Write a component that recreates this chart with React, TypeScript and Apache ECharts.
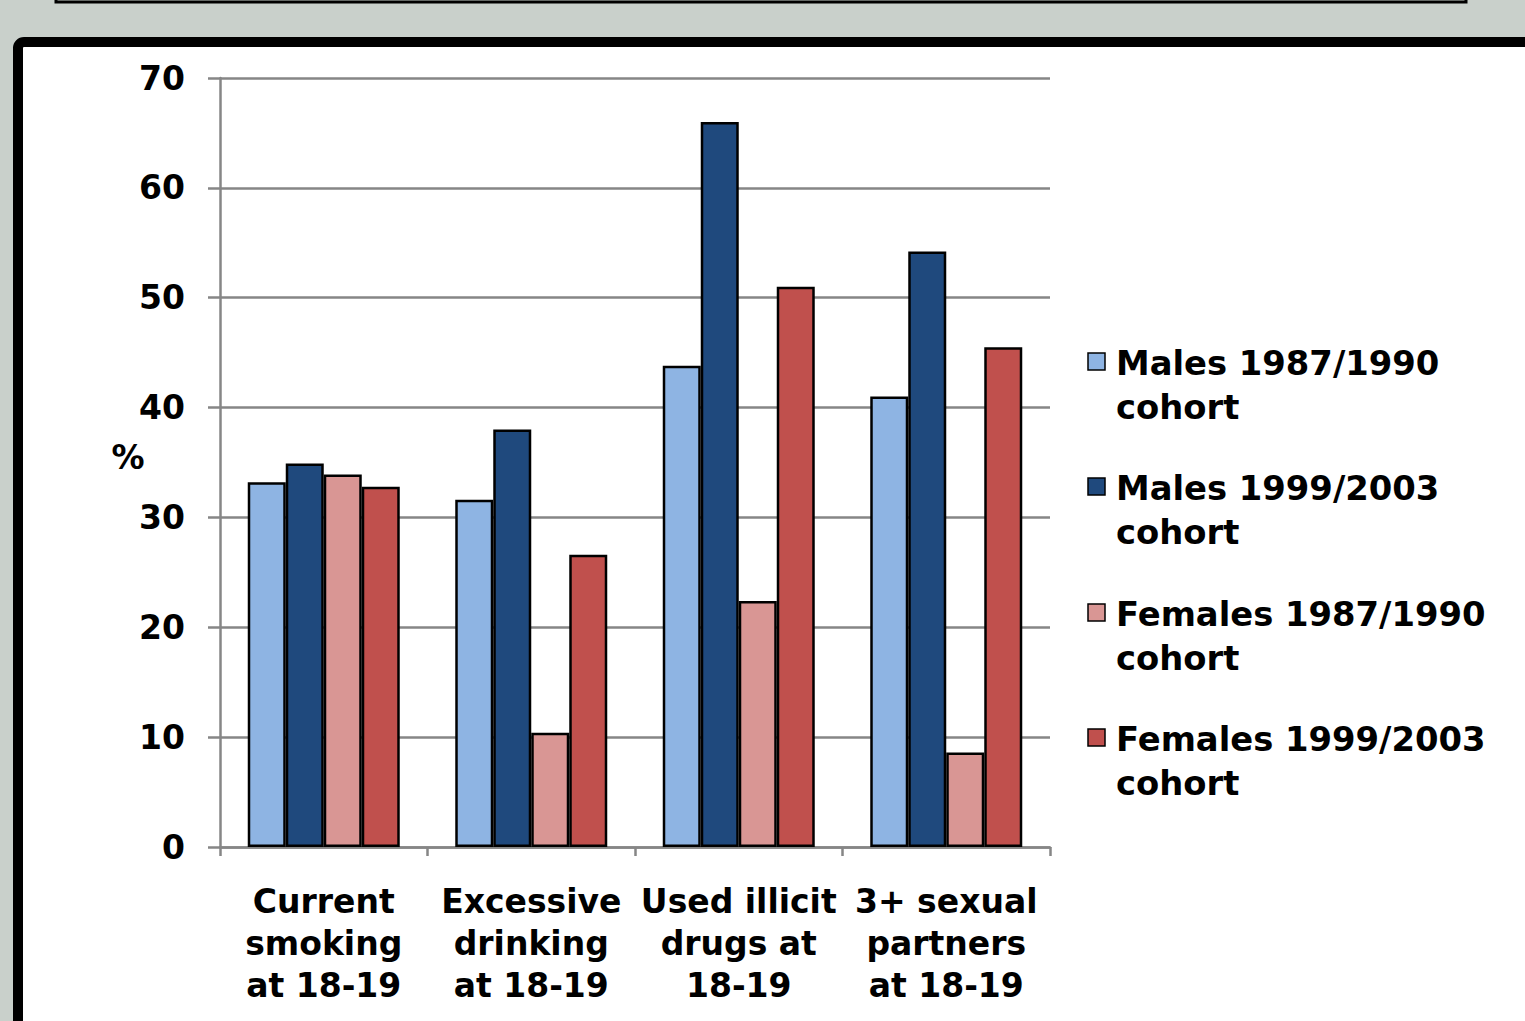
import React, { useEffect, useRef } from "react";
import * as echarts from "echarts";

const categories = [
  "Current\nsmoking\nat 18-19",
  "Excessive\ndrinking\nat 18-19",
  "Used illicit\ndrugs at\n18-19",
  "3+ sexual\npartners\nat 18-19",
];
const seriesNames = [
  "Males 1987/1990\ncohort",
  "Males 1999/2003\ncohort",
  "Females 1987/1990\ncohort",
  "Females 1999/2003\ncohort",
];
const males8790 = [33.2, 31.6, 43.8, 41.0];
const males9903 = [34.9, 38.0, 66.0, 54.2];
const females8790 = [33.9, 10.4, 22.4, 8.6];
const females9903 = [32.8, 26.6, 51.0, 45.5];
const seriesValues = [males8790, males9903, females8790, females9903];
const colors = ["#8eb4e3", "#1f497d", "#d99694", "#c0504d"];
const yTicks = { min: 0, max: 70, interval: 10 };
const yName = "%";

const FONT = "DejaVu Sans";

export default function App() {
  const ref = useRef<HTMLDivElement>(null);
  useEffect(() => {
    if (!ref.current) return;
    const chart = echarts.init(ref.current, undefined, { renderer: "svg" });
    const legendCenters = [363, 488, 614, 739];
    const legendGraphics: any[] = [];
    seriesNames.forEach((n, i) => {
      legendGraphics.push({
        type: "rect",
        shape: { x: 1088, y: legendCenters[i] - 10, width: 17, height: 17 },
        style: { fill: colors[i], stroke: "#000", lineWidth: 1.5 },
        z: 10,
      });
      legendGraphics.push({
        type: "text",
        x: 1116,
        y: legendCenters[i] - 22,
        style: {
          text: n,
          fill: "#000",
          fontSize: 33.8,
          fontWeight: "bold",
          fontFamily: FONT,
          lineHeight: 44,
          verticalAlign: "top",
          align: "left",
        },
        z: 10,
      });
    });
    chart.setOption({
      animation: false,
      backgroundColor: "#c9d0cb",
      graphic: [
        {
          type: "rect",
          shape: { x: 56, y: -60, width: 1410, height: 62 },
          style: { fill: "#c9d0cb", stroke: "#000", lineWidth: 3 },
          z: -10,
        },
        {
          type: "rect",
          shape: { x: 18, y: 42, width: 1600, height: 1100, r: 6 },
          style: { fill: "#ffffff", stroke: "#000", lineWidth: 10 },
          z: -10,
        },
        {
          type: "text",
          x: 128,
          y: 457,
          style: {
            text: yName,
            fill: "#000",
            fontSize: 33,
            fontWeight: "bold",
            fontFamily: FONT,
            align: "center",
            verticalAlign: "middle",
          },
          z: 10,
        },
        ...legendGraphics,
      ],
      grid: { left: 220, top: 78, right: 475, bottom: 174, containLabel: false },
      xAxis: {
        type: "category",
        data: categories,
        axisLine: { show: true, lineStyle: { color: "#868686", width: 2.5 } },
        axisTick: { show: true, length: 9, lineStyle: { color: "#868686", width: 2.5 } },
        axisLabel: {
          interval: 0,
          margin: 33,
          color: "#000",
          fontSize: 33,
          fontWeight: "bold",
          fontFamily: FONT,
          lineHeight: 42,
          align: "center",
        },
      },
      yAxis: {
        type: "value",
        min: yTicks.min,
        max: yTicks.max,
        interval: yTicks.interval,
        axisLine: { show: true, lineStyle: { color: "#868686", width: 2.5 } },
        axisTick: { show: true, length: 12, lineStyle: { color: "#868686", width: 2.5 } },
        splitLine: { show: true, lineStyle: { color: "#868686", width: 2.5 } },
        axisLabel: {
          margin: 35,
          color: "#000",
          fontSize: 33,
          fontWeight: "bold",
          fontFamily: FONT,
        },
      },
      series: seriesValues.map((vals, i) => ({
        type: "bar",
        name: seriesNames[i],
        data: vals,
        barWidth: 38,
        barGap: "0%",
        itemStyle: { color: colors[i], borderColor: "#000", borderWidth: 2.5 },
      })),
    });
    return () => chart.dispose();
  }, []);
  return (
    <div
      ref={ref}
      style={{ position: "fixed", left: 0, top: 0, width: 1525, height: 1021 }}
    />
  );
}
